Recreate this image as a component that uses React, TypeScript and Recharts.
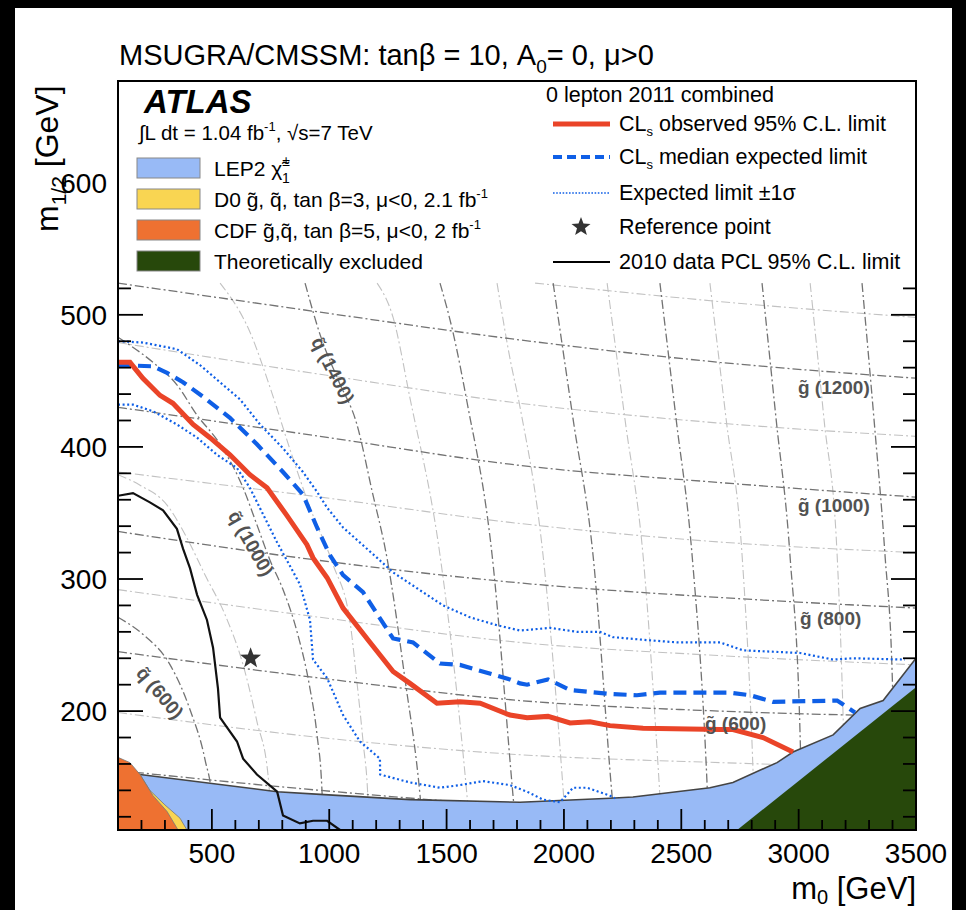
import React from "react";
import {
  ComposedChart, Line, Area, Scatter, XAxis, YAxis, ReferenceArea, ReferenceDot,
} from "recharts";

type Pt = { x: number; y: number };
const pts = (a: number[][]): Pt[] => a.map(([x, y]) => ({ x, y }));

const FONT = '"Liberation Sans", Arial, Helvetica, sans-serif';

// axis ticks
const xTicks = [200, 300, 400, 500, 600, 700, 800, 900, 1000, 1100, 1200, 1300, 1400, 1500, 1600, 1700, 1800, 1900, 2000,
  2100, 2200, 2300, 2400, 2500, 2600, 2700, 2800, 2900, 3000, 3100, 3200, 3300, 3400, 3500];
const xMajorTicks = [500, 1000, 1500, 2000, 2500, 3000, 3500];
const yTicks = [120, 140, 160, 180, 200, 220, 240, 260, 280, 300, 320, 340, 360, 380, 400, 420, 440, 460, 480, 500,
  520, 540, 560, 580, 600, 620, 640, 660];
const yMajorTicks = [200, 300, 400, 500, 600];

// limits (m0, m1/2)
const observed = pts([[100, 464], [151, 464], [206, 452], [279, 439], [334, 433], [420, 417], [492, 407], [577, 394],
  [662, 379], [735, 369], [820, 348], [905, 326], [931, 316], [991, 301], [1059, 278], [1174, 252], [1272, 230],
  [1344, 221], [1459, 206], [1557, 207], [1643, 206], [1770, 197], [1843, 195], [1932, 196], [2026, 191],
  [2111, 192], [2196, 189], [2337, 187], [2665, 186], [2720, 186], [2848, 180], [2976, 169]]);
const medianExpected = pts([[100, 462], [249, 461], [309, 456], [377, 449], [462, 438], [577, 422], [692, 402],
  [803, 381], [888, 364], [948, 339], [1003, 318], [1059, 303], [1144, 290], [1272, 255], [1357, 252], [1472, 236],
  [1557, 235], [1672, 229], [1770, 224], [1813, 221], [1843, 220], [1932, 224], [2026, 216], [2196, 213], [2311, 212],
  [2409, 214], [2708, 214], [2793, 212], [2891, 207], [3164, 208], [3206, 203], [3240, 199]]);
const expectedPlus = pts([[100, 480], [206, 479], [351, 474], [449, 462], [547, 447], [620, 436], [705, 417],
  [803, 399], [888, 381], [948, 366], [991, 354], [1059, 339], [1204, 316], [1272, 305], [1374, 293], [1485, 280],
  [1600, 271], [1715, 265], [1813, 261], [1941, 263], [2056, 260], [2154, 260], [2209, 256], [2337, 254],
  [2482, 252], [2665, 252], [2763, 246], [3006, 244], [3147, 239], [3232, 240], [3453, 239]]);
const expectedMinus = pts([[100, 432], [164, 432], [249, 427], [351, 417], [437, 407], [522, 394], [607, 384],
  [662, 369], [718, 349], [777, 328], [820, 314], [875, 296], [918, 269], [931, 239], [991, 225], [1059, 197],
  [1131, 177], [1216, 164], [1217, 152], [1344, 146], [1472, 142], [1557, 144], [1655, 147], [1770, 144],
  [1843, 139], [1911, 133], [1983, 131], [2039, 142], [2098, 142], [2196, 136], [2218, 134]]);
const pcl2010 = pts([[100, 363], [164, 365], [236, 358], [292, 352], [351, 338], [377, 323], [407, 308], [437, 288],
  [479, 269], [505, 248], [526, 217], [535, 195], [607, 177], [633, 164], [692, 152], [778, 139], [803, 121],
  [875, 115], [931, 117], [991, 117], [1046, 110]]);
const referencePoint = pts([[665, 240]]);

// excluded regions (upper edge)
const lep2Region = pts([[100, 153], [194, 152], [778, 139], [961, 137], [1344, 133], [1813, 131], [2196, 134],
  [2294, 135], [2622, 142], [2720, 146], [2908, 161], [2976, 169], [3147, 182], [3262, 202], [3360, 208], [3500, 240]]);
const d0Region = pts([[100, 165], [194, 152], [236, 140], [300, 129], [364, 119], [394, 110]]);
const cdfRegion = pts([[100, 165], [151, 161], [194, 152], [249, 136], [309, 124], [356, 110]]);
const theoryRegion = pts([[2738, 110], [3500, 218]]);

// squark iso-mass contours
const sq600 = pts([[100, 271], [207, 258], [322, 235], [407, 201], [471, 163], [501, 133], [509, 110]]);
const sq800 = pts([[100, 379], [194, 371], [309, 356], [394, 331], [471, 303], [556, 273], [633, 235], [692, 192], [739, 152], [756, 110]]);
const sq1000 = pts([[100, 483], [151, 477], [249, 464], [351, 447], [437, 424], [535, 402], [633, 369], [692, 341],
  [748, 314], [803, 292], [863, 260], [918, 217], [948, 182], [969, 140], [974, 110]]);
const sq1200 = pts([[535, 524], [662, 487], [748, 445], [833, 398], [918, 354], [1016, 311], [1089, 267], [1118, 222], [1144, 177], [1165, 133], [1170, 110]]);
const sq1400 = pts([[897, 524], [961, 485], [1037, 451], [1118, 417], [1182, 367], [1246, 316], [1323, 224], [1387, 136], [1400, 110]]);
const sq1600 = pts([[1204, 524], [1272, 498], [1344, 437], [1472, 318], [1587, 136], [1600, 110]]);
const sq1800 = pts([[1472, 524], [1527, 487], [1587, 434], [1694, 318], [1783, 136], [1796, 110]]);
const sq2000 = pts([[1715, 524], [1770, 467], [1813, 430], [1911, 318], [1996, 142], [2009, 110]]);
const sq2200 = pts([[1954, 524], [2039, 421], [2124, 318], [2205, 136], [2218, 110]]);
const sq2400 = pts([[2184, 524], [2260, 421], [2337, 318], [2409, 136], [2418, 110]]);
const sq2600 = pts([[2409, 524], [2478, 421], [2546, 318], [2610, 144], [2618, 110]]);
const sq2800 = pts([[2622, 524], [2691, 421], [2759, 318], [2806, 153], [2814, 110]]);
const sq3000 = pts([[2844, 524], [2904, 421], [2963, 318], [3006, 183], [3015, 110]]);
const sq3200 = pts([[3049, 524], [3108, 421], [3164, 318], [3189, 199], [3202, 110]]);
const sq3400 = pts([[3270, 524], [3321, 421], [3368, 318], [3398, 231], [3415, 110]]);

// gluino iso-mass contours
const gl1300 = pts([[1877, 524], [2665, 510], [3500, 498]]);
const gl1200 = pts([[100, 524], [961, 502], [1813, 481], [2665, 464], [3500, 452]]);
const gl1100 = pts([[100, 479], [961, 455], [1813, 433], [2665, 418], [3500, 408]]);
const gl1000 = pts([[100, 430], [961, 408], [1813, 386], [2665, 373], [3500, 362]]);
const gl900 = pts([[100, 381], [961, 362], [1813, 342], [2665, 328], [3500, 320]]);
const gl800 = pts([[100, 336], [961, 314], [1813, 297], [2665, 286], [3500, 278]]);
const gl700 = pts([[100, 292], [961, 271], [1813, 252], [2665, 242], [3500, 235]]);
const gl600 = pts([[100, 245], [961, 225], [1813, 208], [2665, 200], [3500, 196]]);
const gl500 = pts([[100, 199], [961, 180], [1813, 167], [2665, 161], [3500, 157]]);
const gl400 = pts([[100, 155], [961, 140], [1813, 128], [2665, 121], [3500, 117]]);

const darkContours = [sq600, sq1000, sq1400, sq1800, sq2200, sq2600, sq3000, sq3400, gl1200, gl1000, gl800, gl600, gl400];
const lightContours = [sq800, sq1200, sq1600, sq2000, sq2400, sq2800, sq3200, gl1300, gl1100, gl900, gl700, gl500];

// contour labels
const squarkLabels = [
  { x: 1016, y: 458, text: "q\u0303 (1400)", angle: 63 },
  { x: 667, y: 327, text: "q\u0303 (1000)", angle: 60 },
  { x: 279, y: 214, text: "q\u0303 (600)", angle: 50 },
];
const gluinoLabels = [
  { x: 2997, y: 445, text: "g\u0303 (1200)" },
  { x: 2997, y: 356, text: "g\u0303 (1000)" },
  { x: 3006, y: 270, text: "g\u0303 (800)" },
  { x: 2601, y: 191, text: "g\u0303 (600)" },
];

const RED = "#EA4428";
const BLUE = "#0F5FE6";
const LABEL_GREY = "#525252";

function starPath(cx: number, cy: number, R: number, r: number) {
  let d = "";
  for (let i = 0; i < 10; i++) {
    const a = -Math.PI / 2 + (i * Math.PI) / 5;
    const rad = i % 2 === 0 ? R : r;
    d += (i === 0 ? "M" : "L") + (cx + rad * Math.cos(a)).toFixed(2) + "," + (cy + rad * Math.sin(a)).toFixed(2);
  }
  return d + "Z";
}

function BottomTick(props: any) {
  const { x, y, payload } = props;
  const v = payload.value as number;
  const major = xMajorTicks.includes(v);
  return (
    <g>
      <line x1={x} x2={x} y1={y} y2={y - (major ? 21 : 10)} stroke="#000" strokeWidth={1.8} />
      {major && (
        <text x={x} y={y + 23} dy="0.36em" textAnchor="middle" fontSize={28} fontFamily={FONT} fill="#000">{v}</text>
      )}
    </g>
  );
}

function LeftTick(props: any) {
  const { x, y, payload } = props;
  const v = payload.value as number;
  const major = yMajorTicks.includes(v);
  return (
    <g>
      {v <= 520 && <line x1={x} x2={x + (major ? 25 : 13)} y1={y} y2={y} stroke="#000" strokeWidth={1.8} />}
      {major && (
        <text x={x - 11} y={y} dy="0.36em" textAnchor="end" fontSize={28} fontFamily={FONT} fill="#000">{v}</text>
      )}
    </g>
  );
}

function RightTick(props: any) {
  const { x, y, payload } = props;
  const v = payload.value as number;
  const major = yMajorTicks.includes(v);
  if (v > 520) return <g />;
  return <line x1={x} x2={x - (major ? 25 : 13)} y1={y} y2={y} stroke="#000" strokeWidth={1.8} />;
}

export default function App() {
  return (
    <div style={{ position: "absolute", left: 0, top: 0, width: 966, height: 910, background: "#fff", fontFamily: FONT }}>
      <ComposedChart width={966} height={910} margin={{ top: 81, right: 40, bottom: 30, left: 58 }}>
        <XAxis
          type="number" dataKey="x" domain={[100, 3500]} allowDataOverflow ticks={xTicks} interval={0}
          tick={(p: any) => <BottomTick {...p} />} tickSize={0} tickMargin={0} tickLine={false}
          axisLine={{ stroke: "#000", strokeWidth: 2 }} height={50}
        />
        <YAxis
          type="number" domain={[110, 677]} allowDataOverflow ticks={yTicks} interval={0}
          tick={(p: any) => <LeftTick {...p} />} tickSize={0} tickMargin={0} tickLine={false}
          axisLine={{ stroke: "#000", strokeWidth: 2 }} width={60}
        />
        <YAxis
          yAxisId="r" orientation="right" type="number" domain={[110, 677]} allowDataOverflow ticks={yTicks} interval={0}
          tick={(p: any) => <RightTick {...p} />} tickSize={0} tickMargin={0} tickLine={false}
          axisLine={{ stroke: "#000", strokeWidth: 2 }} width={10}
        />

        {lightContours.map((d, i) => (
          <Line key={"lc" + i} data={d} dataKey="y" type="monotone" stroke="#c2c2c2" strokeWidth={1.1}
            strokeDasharray="9 3 2 3" dot={false} activeDot={false} isAnimationActive={false} zIndex={40} />
        ))}
        {darkContours.map((d, i) => (
          <Line key={"dc" + i} data={d} dataKey="y" type="monotone" stroke="#737373" strokeWidth={1.3}
            strokeDasharray="9 3 2 3" dot={false} activeDot={false} isAnimationActive={false} zIndex={45} />
        ))}

        <Area data={lep2Region} dataKey="y" type="linear" fill="#98BAF6" fillOpacity={1} stroke="#444" strokeWidth={1.6}
          isAnimationActive={false} dot={false} activeDot={false} zIndex={100} />
        <Area data={d0Region} dataKey="y" type="linear" fill="#F9D552" fillOpacity={1} stroke="#777" strokeWidth={0.8}
          isAnimationActive={false} dot={false} activeDot={false} zIndex={101} />
        <Area data={cdfRegion} dataKey="y" type="linear" fill="#EE7131" fillOpacity={1} stroke="#777" strokeWidth={0.8}
          isAnimationActive={false} dot={false} activeDot={false} zIndex={102} />
        <Area data={theoryRegion} dataKey="y" type="linear" fill="#27480B" fillOpacity={1} stroke="none"
          isAnimationActive={false} dot={false} activeDot={false} zIndex={103} />

        <Line data={pcl2010} dataKey="y" type="linear" stroke="#111" strokeWidth={2.2} dot={false} activeDot={false} isAnimationActive={false} zIndex={400} />
        <Line data={expectedPlus} dataKey="y" type="linear" stroke={BLUE} strokeWidth={2.2} strokeDasharray="2 2.6" dot={false} activeDot={false} isAnimationActive={false} zIndex={400} />
        <Line data={expectedMinus} dataKey="y" type="linear" stroke={BLUE} strokeWidth={2.2} strokeDasharray="2 2.6" dot={false} activeDot={false} isAnimationActive={false} zIndex={400} />
        <Line data={medianExpected} dataKey="y" type="linear" stroke={BLUE} strokeWidth={4.2} strokeDasharray="13 7" dot={false} activeDot={false} isAnimationActive={false} zIndex={400} />
        <Line data={observed} dataKey="y" type="linear" stroke={RED} strokeWidth={5} dot={false} activeDot={false} isAnimationActive={false} zIndex={400} />

        <Scatter data={referencePoint} dataKey="y" isAnimationActive={false} zIndex={600}
          shape={(p: any) => <path d={starPath(p.cx, p.cy, 11, 4.6)} fill="#333" />} />

        {squarkLabels.map((l) => (
          <ReferenceDot key={l.text} x={l.x} y={l.y} r={1}
            shape={(p: any) => (
              <text x={p.cx} y={p.cy} dy="0.35em" textAnchor="middle" fontSize={19} fontWeight="bold" fontFamily={FONT}
                fill={LABEL_GREY} transform={`rotate(${l.angle} ${p.cx} ${p.cy})`}>{l.text}</text>
            )} />
        ))}
        {gluinoLabels.map((l) => (
          <ReferenceDot key={l.text} x={l.x} y={l.y} r={1}
            shape={(p: any) => (
              <text x={p.cx} y={p.cy} dy="0.35em" textAnchor="start" fontSize={19} fontWeight="bold" fontFamily={FONT}
                fill={LABEL_GREY}>{l.text}</text>
            )} />
        ))}

        <ReferenceArea x1={100} x2={3500} y1={110} y2={677} fill="none" stroke="#000" strokeWidth={2} zIndex={1500} />
      </ComposedChart>

      <svg width={966} height={910} style={{ position: "absolute", left: 0, top: 0, pointerEvents: "none" }} fontFamily={FONT}>
        {/* screenshot borders */}
        <rect x={0} y={0} width={966} height={8} fill="#000" />
        <rect x={0} y={0} width={15} height={910} fill="#000" />
        <rect x={952} y={0} width={14} height={910} fill="#000" />

        <text x={119} y={65} fontSize={29} fill="#000">
          MSUGRA/CMSSM: tanβ = 10, A<tspan fontSize={19} dy={8}>0</tspan><tspan dy={-8}>= 0, μ&gt;0</tspan>
        </text>

        <text transform="translate(58,232) rotate(-90)" fontSize={32} fill="#000">
          m<tspan fontSize={21} dy={8}>1/2</tspan><tspan dy={-8}> [GeV]</tspan>
        </text>
        <text x={916} y={899} textAnchor="end" fontSize={31} fill="#000">
          m<tspan fontSize={20} dy={5}>0</tspan><tspan dy={-5}> [GeV]</tspan>
        </text>

        {/* left legend */}
        <text x={144} y={113} fontSize={33} fontWeight="bold" fontStyle="italic" fill="#000">ATLAS</text>
        <text x={139} y={140} fontSize={20.5} fill="#000">
          ∫L dt = 1.04 fb<tspan fontSize={13} dy={-9}>-1</tspan><tspan dy={9}>, √s=7 TeV</tspan>
        </text>
        <rect x={137} y={158} width={63} height={20} fill="#98BAF6" stroke="#888" />
        <rect x={137} y={189} width={63} height={20} fill="#F9D552" stroke="#888" />
        <rect x={137} y={220} width={63} height={20} fill="#EE7131" stroke="#888" />
        <rect x={137} y={251} width={63} height={20} fill="#27480B" stroke="#888" />
        <text x={214} y={176} fontSize={21} fill="#000">
          LEP2 χ̃<tspan fontSize={14} dy={-10}>±</tspan><tspan fontSize={14} dx={-8} dy={17}>1</tspan>
        </text>
        <text x={214} y={207} fontSize={21} fill="#000">
          D0 g̃, q̃, tan β=3, μ&lt;0, 2.1 fb<tspan fontSize={13} dy={-9}>-1</tspan>
        </text>
        <text x={214} y={238} fontSize={21} fill="#000">
          CDF g̃,q̃, tan β=5, μ&lt;0, 2 fb<tspan fontSize={13} dy={-9}>-1</tspan>
        </text>
        <text x={214} y={269} fontSize={21} fill="#000">Theoretically excluded</text>

        {/* right legend */}
        <text x={546} y={102} fontSize={21.5} fill="#000">0 lepton 2011 combined</text>
        <line x1={553} x2={610} y1={124} y2={124} stroke={RED} strokeWidth={5} />
        <line x1={553} x2={610} y1={157} y2={157} stroke={BLUE} strokeWidth={4} strokeDasharray="9 5" />
        <line x1={553} x2={610} y1={193} y2={193} stroke={BLUE} strokeWidth={1.6} strokeDasharray="1.6 1.6" />
        <path d={starPath(581, 227, 10, 4.2)} fill="#333" />
        <line x1={553} x2={610} y1={262} y2={262} stroke="#000" strokeWidth={2} />
        <text x={619} y={131} fontSize={21.5} fill="#000">
          CL<tspan fontSize={13} dy={5}>s</tspan><tspan dy={-5}> observed 95% C.L. limit</tspan>
        </text>
        <text x={619} y={164} fontSize={21.5} fill="#000">
          CL<tspan fontSize={13} dy={5}>s</tspan><tspan dy={-5}> median expected limit</tspan>
        </text>
        <text x={619} y={200} fontSize={21.5} fill="#000">Expected limit ±1σ</text>
        <text x={619} y={234} fontSize={21.5} fill="#000">Reference point</text>
        <text x={619} y={269} fontSize={21.5} fill="#000">2010 data PCL 95% C.L. limit</text>
      </svg>
    </div>
  );
}
